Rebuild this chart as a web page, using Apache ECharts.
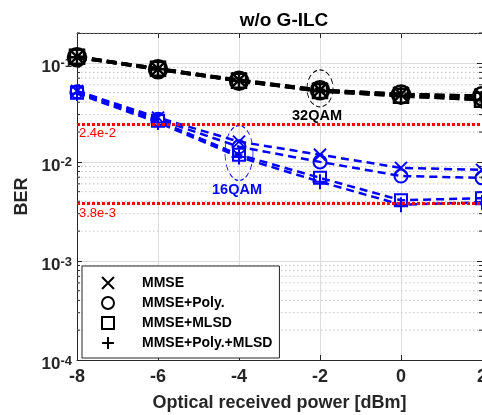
<!DOCTYPE html>
<html><head><meta charset="utf-8">
<script src="https://cdn.jsdelivr.net/npm/echarts@6/dist/echarts.min.js"></script>
<style>html,body{margin:0;padding:0;background:#fff}#c{width:482px;height:415px}</style>
</head><body><div id="c"></div>
<script>
// ---- data ----
const xValues = [-8, -6, -4, -2, 0, 2];
const seriesNames = ['MMSE', 'MMSE+Poly.', 'MMSE+MLSD', 'MMSE+Poly.+MLSD'];
// 32QAM (black)
const mmse32 = [0.115, 0.087, 0.067, 0.053, 0.048, 0.046];
const poly32 = [0.114, 0.086, 0.066, 0.053, 0.048, 0.046];
const mlsd32 = [0.115, 0.087, 0.066, 0.052, 0.0465, 0.0425];
const both32 = [0.114, 0.086, 0.066, 0.052, 0.0465, 0.0425];
// 16QAM (blue)
const mmse16 = [0.052, 0.028, 0.016, 0.0118, 0.0087, 0.0083];
const poly16 = [0.051, 0.027, 0.0142, 0.0100, 0.0072, 0.0069];
const mlsd16 = [0.050, 0.026, 0.0118, 0.0069, 0.0041, 0.0043];
const both16 = [0.049, 0.025, 0.0112, 0.0063, 0.0037, 0.0039];
// axis
const xTicks = [-8, -6, -4, -2, 0, 2];
const yMin = 1e-4, yMax = 0.2;
const yTickExponents = [-4, -3, -2, -1];
const minorMultipliers = [2, 3, 4, 5, 6, 7, 8, 9];
// annotations
const thresholds = [0.024, 0.0038];
const thresholdLabels = ['2.4e-2', '3.8e-3'];
const ellipse32 = [-2, 0.0552];
const ellipse16 = [-4, 0.0123];
const groupLabels = ['32QAM', '16QAM'];

// ---- chart ----
const FF = '"Liberation Sans", Arial, Helvetica, sans-serif';
const L = Math.log10;
const SYM = {
  x: 'path://M0,0L10,10M10,0L0,10',
  o: 'circle',
  sq: 'rect',
  plus: 'path://M5,0L5,10M0,5L10,5'
};
const symList = [SYM.x, SYM.o, SYM.sq, SYM.plus];
const blackSizes = [15, 18, 14, 18];
const blueSizes = [12, 13, 12, 15];

function mk(name, vals, color, sym, size, lw, dash, bw) {
  return {
    type: 'line', name: name,
    data: xValues.map((x, i) => [x, L(vals[i])]),
    symbol: sym, symbolSize: size, showAllSymbol: true,
    lineStyle: { color: color, width: lw, type: dash },
    itemStyle: { color: 'transparent', borderColor: color, borderWidth: bw },
    z: 3, animation: false, emphasis: { disabled: true }, silent: true
  };
}

const black = [mmse32, poly32, mlsd32, both32];
const blue = [mmse16, poly16, mlsd16, both16];
const series = [];
black.forEach((v, i) => series.push(mk(seriesNames[i], v, '#000', symList[i], blackSizes[i], 3.5, [10, 5], 2.5)));
blue.forEach((v, i) => series.push(mk(seriesNames[i], v, '#0000ff', symList[i], blueSizes[i], 2.5, [8, 5], 2)));

// minor grid lines and ticks (log axis drawn in log space)
const minorVals = [];
yTickExponents.forEach(e => minorMultipliers.forEach(m => {
  const v = L(m * Math.pow(10, e));
  if (v <= L(yMax) + 1e-9) minorVals.push([xTicks[0], v]);
}));
series.push({
  type: 'custom', coordinateSystem: 'cartesian2d', silent: true, z: 1, animation: false,
  data: minorVals,
  renderItem: function (params, api) {
    const y = api.value(1);
    const p1 = api.coord([xTicks[0], y]);
    const p2 = api.coord([xTicks[xTicks.length - 1], y]);
    return {
      type: 'group', children: [
        { type: 'line', shape: { x1: p1[0], y1: p1[1], x2: p2[0], y2: p2[1] }, style: { stroke: '#c4c4c4', lineWidth: 1, lineDash: [1.5, 2.5] } },
        { type: 'line', shape: { x1: p1[0], y1: p1[1], x2: p1[0] + 3, y2: p1[1] }, style: { stroke: '#262626', lineWidth: 1 } },
        { type: 'line', shape: { x1: p2[0] - 3, y1: p2[1], x2: p2[0], y2: p2[1] }, style: { stroke: '#262626', lineWidth: 1 } }
      ]
    };
  }
});

// threshold lines
series.push({
  type: 'scatter', data: [], z: 5, silent: true, animation: false,
  markLine: {
    silent: true, symbol: ['none', 'none'], animation: false,
    lineStyle: { color: '#ff0000', width: 3, type: [3, 2] },
    label: { position: 'insideStartBottom', color: '#ff0000', fontSize: 13, fontFamily: FF, distance: [2, 3] },
    emphasis: { disabled: true },
    data: thresholds.map((t, i) => ({ yAxis: L(t), label: { formatter: thresholdLabels[i] } }))
  }
});

// ellipses with group labels
function ell(pt, color, txtColor, size, label, off) {
  return {
    type: 'scatter', z: 4, silent: true, animation: false,
    data: [[pt[0], L(pt[1])]],
    symbol: 'circle', symbolSize: size,
    itemStyle: { color: 'transparent', borderColor: color, borderWidth: 1, borderType: [5, 3], opacity: 1 },
    label: { show: true, position: 'bottom', distance: 1, offset: off, formatter: label, color: txtColor, fontSize: 14.5, fontWeight: 'bold', fontFamily: FF },
    emphasis: { disabled: true }
  };
}
series.push(ell(ellipse32, '#000', '#000', [26, 37], groupLabels[0], [-3, 0]));
series.push(ell(ellipse16, '#0000ff', '#0000ff', [28, 55], groupLabels[1], [-2, 0]));

const legendIcons = [SYM.x, 'circle', 'rect', SYM.plus];

const option = {
  backgroundColor: '#fff',
  animation: false,
  title: {
    text: 'w/o G-ILC', left: 279, top: 6, textAlign: 'center',
    textStyle: { fontSize: 19, fontWeight: 'bold', color: '#000', fontFamily: FF }
  },
  grid: { left: 77, right: 0, top: 33, bottom: 55, containLabel: false, outerBoundsMode: 'none' },
  legend: {
    orient: 'vertical', left: 82, top: 266, padding: [9, 7, 7, 19],
    itemGap: 4, itemWidth: 12, itemHeight: 12,
    backgroundColor: '#fff', borderColor: '#262626', borderWidth: 1,
    selectedMode: false,
    textStyle: { fontSize: 14, fontWeight: 'bold', color: '#000', fontFamily: FF, lineHeight: 16, padding: [0, 0, 0, 23] },
    data: seriesNames.map((n, i) => ({
      name: n, icon: legendIcons[i],
      itemStyle: { color: 'transparent', borderColor: '#000', borderWidth: 2 }
    }))
  },
  xAxis: [{
    type: 'value', min: xTicks[0], max: xTicks[xTicks.length - 1], interval: 2, position: 'bottom',
    axisLine: { onZero: false, lineStyle: { color: '#262626', width: 1 } },
    axisTick: { inside: true, length: 5, lineStyle: { color: '#262626' } },
    axisLabel: { fontSize: 18, fontWeight: 'bold', color: '#262626', margin: 8, fontFamily: FF, alignMaxLabel: 'center', alignMinLabel: 'center', hideOverlap: false },
    splitLine: { show: true, lineStyle: { color: '#dcdcdc', width: 1 } },
    name: 'Optical received power [dBm]', nameLocation: 'middle', nameGap: 34,
    nameTextStyle: { fontSize: 18, fontWeight: 'bold', color: '#262626', fontFamily: FF }
  }, {
    type: 'value', min: xTicks[0], max: xTicks[xTicks.length - 1], interval: 2, position: 'top',
    axisLine: { onZero: false, lineStyle: { color: '#262626', width: 1 } },
    axisTick: { inside: true, length: 5, lineStyle: { color: '#262626' } },
    axisLabel: { show: false }, splitLine: { show: false }
  }],
  yAxis: [{
    type: 'value', min: L(yMin), max: L(yMax), interval: 1, position: 'left',
    axisLine: { onZero: false, lineStyle: { color: '#262626', width: 1 } },
    axisTick: { inside: true, length: 5, lineStyle: { color: '#262626' } },
    axisLabel: {
      margin: 5, padding: [6, 0, 0, 0],
      formatter: function (v) {
        const r = Math.round(v);
        if (Math.abs(v - r) > 1e-6 || yTickExponents.indexOf(r) < 0) return '';
        return '{b|10}{s|' + r + '}';
      },
      rich: {
        b: { fontSize: 17, fontWeight: 'bold', color: '#262626', fontFamily: FF, lineHeight: 17, padding: [2, 0, 0, 0] },
        s: { fontSize: 13, fontWeight: 'bold', color: '#262626', fontFamily: FF, lineHeight: 13, verticalAlign: 'top' }
      }
    },
    splitLine: { show: true, lineStyle: { color: '#dcdcdc', width: 1 } },
    name: 'BER', nameLocation: 'middle', nameGap: 46, nameRotate: 90,
    nameTextStyle: { fontSize: 18, fontWeight: 'bold', color: '#262626', fontFamily: FF }
  }, {
    type: 'value', min: L(yMin), max: L(yMax), interval: 1, position: 'right',
    axisLine: { onZero: false, lineStyle: { color: '#262626', width: 1 } },
    axisTick: { inside: true, length: 5, lineStyle: { color: '#262626' } },
    axisLabel: { show: false }, splitLine: { show: false }
  }],
  series: series
};
const chart = echarts.init(document.getElementById('c'), null, { renderer: 'canvas' });
chart.setOption(option);
</script></body></html>
